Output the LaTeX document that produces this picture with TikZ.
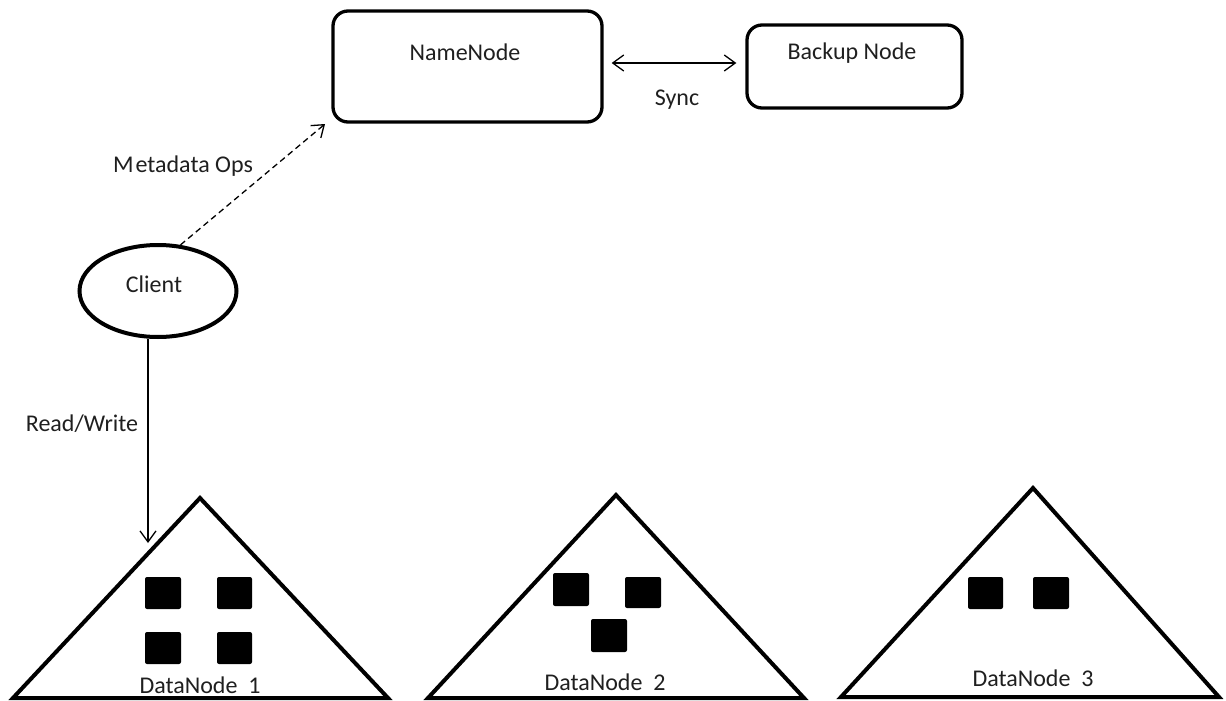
\documentclass[tikz,border=0pt]{standalone}
\usepackage{fontspec}
\setmainfont{Carlito}
\usetikzlibrary{arrows.meta,shapes.geometric}
\tikzset{
  box/.style={draw, line width=3.3pt, rounded corners=15pt, rectangle, inner sep=0pt},
  txt/.style={font=\fontsize{24}{28}\selectfont, text=black!88, inner sep=0pt},
  conn/.style={line width=1.3pt, -{Straight Barb[length=11pt,width=16pt,line width=1.3pt]}},
  tri/.style={draw, line width=4pt, line join=miter},
  blk/.style={fill=black, rounded corners=2pt},
}
\begin{document}
\begin{tikzpicture}[x=1pt,y=-1pt]
\useasboundingbox (0,0) rectangle (1226,701);
% top boxes
\node[box, minimum width=269pt, minimum height=111pt] (nn) at (467.5,66.5) {};
\node[txt] (nnt) at (465,52) {NameNode};
\node[box, minimum width=215pt, minimum height=83pt] (bn) at (854.5,66.5) {};
\node[txt] (bnt) at (852,53) {Backup Node};
\draw[line width=1.3pt, {Straight Barb[length=11pt,width=16pt,line width=1.3pt]}-{Straight Barb[length=11pt,width=16pt,line width=1.3pt]}]
  ([xshift=8pt,yshift=3.5pt]nn.east) -- ([xshift=-9pt,yshift=3.5pt]bn.west);
\node[txt] (sync) at (677,100) {Sync};
% client
\node[draw, ellipse, line width=4pt, minimum width=157pt, minimum height=92pt, inner sep=0pt] (cl) at (158,291) {};
\node[txt] (clt) at (154,284) {Client};
\coordinate (mdtip) at (325,124);
\draw[conn, dashed, dash pattern=on 6pt off 4pt] (cl.64) -- (mdtip);
\node[txt] (md) at (183,166) {M\kern2pt etadata Ops};
% datanodes
\draw[tri] (200,498) -- (13,698) -- (388,698) -- cycle;
\draw[tri] (616,495) -- (428,698) -- (804,698) -- cycle;
\draw[tri] (1033,488) -- (841,697) -- (1219,697) -- cycle;
\fill[blk] (145,577) rectangle (181,609);
\fill[blk] (217,577) rectangle (252,609);
\fill[blk] (145,632) rectangle (181,664);
\fill[blk] (217,632) rectangle (252,664);
\fill[blk] (553,573) rectangle (589,606);
\fill[blk] (625,577) rectangle (661,608);
\fill[blk] (591,619) rectangle (627,652);
\fill[blk] (968,577) rectangle (1003,609);
\fill[blk] (1033,577) rectangle (1069,609);
\node[txt] (d1) at (200,685) {DataNode\hspace{0.45em}1};
\node[txt] (d2) at (605,682) {DataNode\hspace{0.45em}2};
\node[txt] (d3) at (1033,678) {DataNode\hspace{0.45em}3};
% read/write
\coordinate (rwtip) at (148,543);
\draw[conn] (cl.south -| rwtip) -- (rwtip);
\node[txt] (rw) at (82,424) {Read/Write};
\end{tikzpicture}
\end{document}
